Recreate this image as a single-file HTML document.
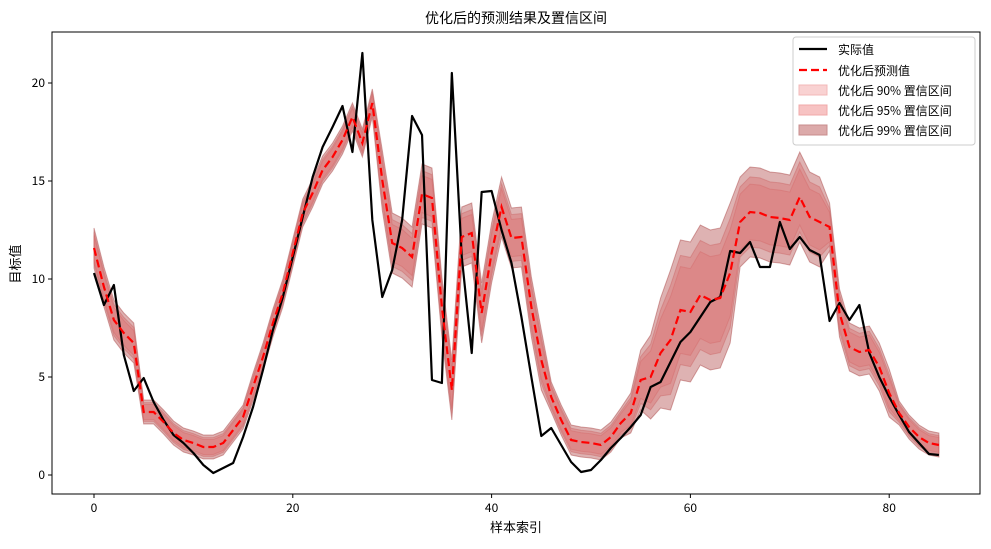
<!DOCTYPE html>
<html><head><meta charset="utf-8">
<style>
html,body{margin:0;padding:0;background:#fff;}
svg text{font-family:"Noto Sans CJK SC","Liberation Sans",sans-serif;fill:#000;}
</style></head>
<body>
<svg id="s" width="991" height="544" xmlns="http://www.w3.org/2000/svg">
<rect width="991" height="544" fill="#fff"/>
<g id="bands"></g>
<polyline id="act" fill="none" stroke="#000" stroke-width="2.2" stroke-linejoin="round"/>
<polyline id="pred" fill="none" stroke="#ff0000" stroke-width="2.2" stroke-dasharray="8,4"/>
<rect x="52" y="32" width="928" height="462" fill="none" stroke="#000" stroke-width="1"/>
<g id="ticks" font-size="12"></g>
<text x="516" y="23" font-size="14" text-anchor="middle">优化后的预测结果及置信区间</text>
<text x="516" y="532" font-size="13" text-anchor="middle">样本索引</text>
<text transform="translate(20,264) rotate(-90)" font-size="13" text-anchor="middle">目标值</text>
<g>
<rect x="793" y="37" width="182" height="108" rx="3" fill="#fff" fill-opacity="0.8" stroke="#ccc"/>
<line x1="799" y1="49" x2="827" y2="49" stroke="#000" stroke-width="2.2"/>
<line x1="799" y1="70" x2="827" y2="70" stroke="#f00" stroke-width="2.2" stroke-dasharray="8,4"/>
<rect x="799" y="85" width="28" height="10" fill="#f9d2d2" stroke="#f3b8b8"/>
<rect x="799" y="105" width="28" height="10" fill="#f7c3c3" stroke="#f0a8a8"/>
<rect x="799" y="125" width="28" height="10" fill="#dcaaaa" stroke="#c88c8c"/>
<text x="838" y="54" font-size="12">实际值</text>
<text x="838" y="75" font-size="12">优化后预测值</text>
<text x="838" y="95" font-size="12">优化后 90% 置信区间</text>
<text x="838" y="115" font-size="12">优化后 95% 置信区间</text>
<text x="838" y="135" font-size="12">优化后 99% 置信区间</text>
</g>
</svg>
<script>
var A=[273,305,285,355,391,378,402,420,435,443,453,465,473,468,463,437,407,370,330,297,257,217,177,147,127,106,152,53,220,297,270,220,116,135,380,383,73,257,353,192,191,230,263,317,377,436,428,445,462,472,470,460,448,438,427,415,387,382,362,342,332,317,302,297,251,253,242,267,267,222,249,237,250,255,321,303,320,305,353,377,397,415,432,443,454,455];
var P=[248,287,320,333,343,412,412,422,433,440,443,447,447,443,430,417,387,357,323,293,253,213,193,170,157,140,117,143,103,180,243,248,257,194,198,307,390,237,233,313,253,207,238,237,307,360,397,420,440,442,443,445,437,423,413,380,377,353,340,310,312,295,300,298,273,222,212,213,217,218,220,197,217,222,227,313,347,352,350,367,393,413,427,437,443,445];
function X(i){return 94+i*9.94;}
function H(i){if(i<5)return 20;if(i<16)return 12;if(i<29)return 14;if(i<46)return 30;if(i<54)return 15;var m={54:20,55:30,56:42,57:55};if(m[i])return m[i];if(i<65)return 70;if(i<74)return 45;if(i<81)return 24;return 12;}
function band(f,fill,op,st){var up=[],dn=[];for(var i=0;i<P.length;i++){var h=H(i)*f;up.push(X(i)+','+(P[i]-h));dn.unshift(X(i)+','+(P[i]+h));}
var p=document.createElementNS('http://www.w3.org/2000/svg','polygon');p.setAttribute('points',up.concat(dn).join(' '));p.setAttribute('fill',fill);p.setAttribute('fill-opacity',op);p.setAttribute('stroke',st);p.setAttribute('stroke-opacity',op);document.getElementById('bands').appendChild(p);}
band(1,'#b04848',0.42,'#a03030');band(0.78,'#d86a6a',0.4,'#c86060');band(0.62,'#e07070',0.35,'#d06060');
var a=[],p=[];for(var i=0;i<A.length;i++){a.push(X(i)+','+A[i]);p.push(X(i)+','+P[i]);}
document.getElementById('act').setAttribute('points',a.join(' '));
document.getElementById('pred').setAttribute('points',p.join(' '));
var g=document.getElementById('ticks'),s='';
[0,20,40,60,80].forEach(function(v){var x=94+v*9.94;s+='<line x1="'+x+'" y1="494" x2="'+x+'" y2="498" stroke="#000"/><text x="'+x+'" y="512" text-anchor="middle">'+v+'</text>';});
[0,5,10,15,20].forEach(function(v){var y=475-v*19.6;s+='<line x1="48" y1="'+y+'" x2="52" y2="'+y+'" stroke="#000"/><text x="45" y="'+(y+4)+'" text-anchor="end">'+v+'</text>';});
g.innerHTML=s;
</script>
</body></html>
